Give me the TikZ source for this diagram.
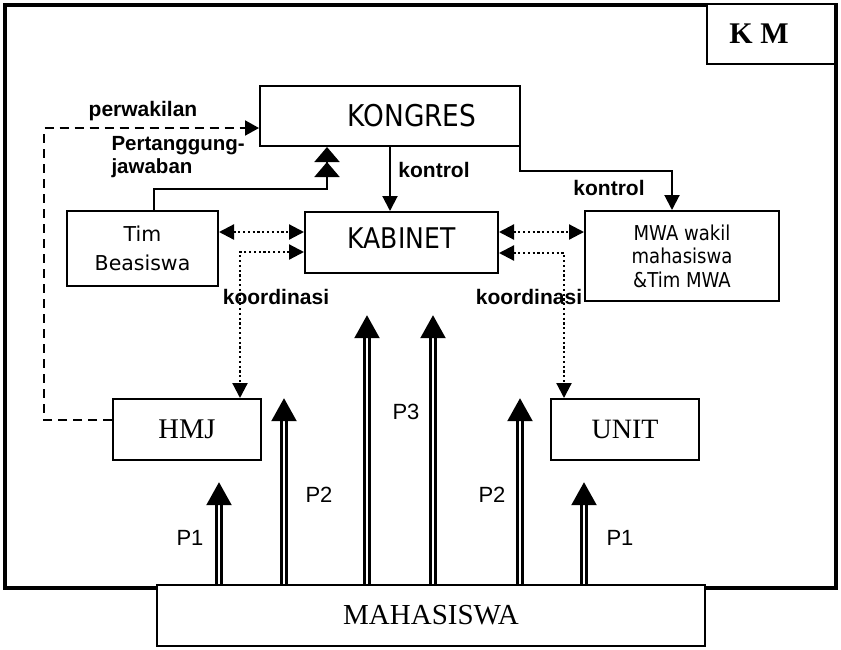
\documentclass[tikz,border=0pt]{standalone}
\usepackage{fontspec}
\setmainfont{Liberation Serif}
\setsansfont{Liberation Sans}
\newfontfamily\boxfont{DejaVu Sans}
\newfontfamily\narrowfont[FakeStretch=0.88]{DejaVu Sans}
\usetikzlibrary{arrows.meta, calc}

\begin{document}
\begin{tikzpicture}[
            x={(1pt,0pt)},
            y={(0pt,-1pt)},
            box/.style={draw, line width=2pt, fill=white, inner sep=0pt},
            lbl/.style={font=\sffamily\bfseries\fontsize{21}{23}\selectfont},
            plbl/.style={font=\sffamily\fontsize{22}{24}\selectfont},
            koord/.style={line width=2.2pt, dash pattern=on 2.2pt off 2.6pt},
            dtip/.tip={Triangle[width=15pt,length=15pt]},
            flow/.style={double, double distance=2.6pt, line width=2.3pt, -{Triangle[width=25pt,length=23pt]}}
        ]

            \useasboundingbox (0,0) rectangle (841,649);

            % --- Outer frame ---
            \draw[line width=4.5pt] (5,5) rectangle (836,588);

            % --- Boxes ---
            \node[box, minimum width=128pt, minimum height=60pt,
                  font=\rmfamily\bfseries\fontsize{30}{32}\selectfont] (km) at (771,34) {K M\hspace*{24pt}};
            \node[box, minimum width=260pt, minimum height=60pt,
                  font=\narrowfont\fontsize{30}{32}\selectfont] (kongres) at (390,116) {\hspace*{44pt}KONGRES};
            \node[box, minimum width=193pt, minimum height=61pt,
                  font=\narrowfont\fontsize{28.5}{30}\selectfont] (kabinet) at (401.5,242.5) {KABINET\rule[-8pt]{0pt}{1pt}};
            \node[box, minimum width=151pt, minimum height=75pt, align=center,
                  font=\boxfont\fontsize{20.5}{29}\selectfont] (timbea) at (142.5,248.5) {Tim\\Beasiswa};
            \node[box, minimum width=194pt, minimum height=90pt, align=center,
                  font=\narrowfont\fontsize{20.5}{23.5}\selectfont] (mwa) at (682,256) {MWA wakil\\mahasiswa\\\&Tim MWA};
            \node[box, minimum width=148pt, minimum height=61pt,
                  font=\rmfamily\fontsize{28.5}{30}\selectfont] (hmj) at (187,429.5) {HMJ};
            \node[box, minimum width=148pt, minimum height=61pt,
                  font=\rmfamily\fontsize{28}{30}\selectfont] (unit) at (625,429.5) {UNIT};
            \node[box, line width=1.6pt, minimum width=548pt, minimum height=61pt,
                  font=\rmfamily\fontsize{29}{31}\selectfont] (mhs) at (431,615.5) {MAHASISWA};

            % --- Perwakilan (dashed) ---
            \draw[line width=2pt, dash pattern=on 9pt off 6pt, -{Triangle[width=15pt,length=14pt]}]
                ([yshift=10pt]hmj.west) -- ++(-68,0) |- ([yshift=-12pt]kongres.west);

            % --- Pertanggungjawaban ---
            \draw[line width=2pt, -{Triangle[width=25pt,length=15pt] Triangle[width=25pt,length=15pt]}]
                ([xshift=11.5pt]timbea.north) -- ++(0,-21) -| ([xshift=-63pt]kongres.south);

            % --- Kontrol ---
            \draw[line width=2pt, -{Triangle[width=15pt,length=15pt]}]
                (kongres.south) -- (kongres.south |- kabinet.north);
            \draw[line width=2pt, -{Triangle[width=15pt,length=15pt]}]
                ([xshift=130pt]kongres.south) -- ++(0,24) -| ([xshift=-10pt]mwa.north);

            % --- Koordinasi (dotted) ---
            \draw[koord, dtip-dtip] ([yshift=16.5pt]timbea.east) -- ([yshift=16.5pt]timbea.east -| kabinet.west);
            \draw[koord, dtip-dtip] ([yshift=10.5pt]kabinet.east) -- ([yshift=10.5pt]kabinet.east -| mwa.west);
            \draw[koord, dtip-dtip] ([yshift=-9.5pt]kabinet.west) -| ([xshift=53pt]hmj.north);
            \draw[koord, dtip-dtip] ([yshift=-10.5pt]kabinet.east) -| ([xshift=-61pt]unit.north);

            % --- Aspirasi dari mahasiswa ---
            \foreach \dx/\len in {-212/102, -147/186, -64/269, 2/269, 89/186, 153/102}
                \draw[flow] ([xshift=\dx pt]mhs.north) -- ++(0,-\len);

            % --- Labels ---
            \node[lbl] (lperwakilan) at (143,111) {perwakilan};
            \node[lbl, anchor=west, align=left, font=\sffamily\bfseries\fontsize{20.5}{22.5}\selectfont]
                (lpertanggung) at (108,157) {Pertanggung-\\jawaban};
            \node[lbl] (lkontrola) at (434,170) {kontrol};
            \node[lbl] (lkontrolb) at (609,188) {kontrol};
            \node[lbl] (lkoorda) at (276,297) {koordinasi};
            \node[lbl] (lkoordb) at (529,297) {koordinasi};
            \node[plbl] (lpa) at (190,538) {P1};
            \node[plbl] (lpb) at (319,495) {P2};
            \node[plbl] (lpc) at (406,412) {P3};
            \node[plbl] (lpd) at (492,495) {P2};
            \node[plbl] (lpe) at (620,538) {P1};

        \end{tikzpicture}
\end{document}
